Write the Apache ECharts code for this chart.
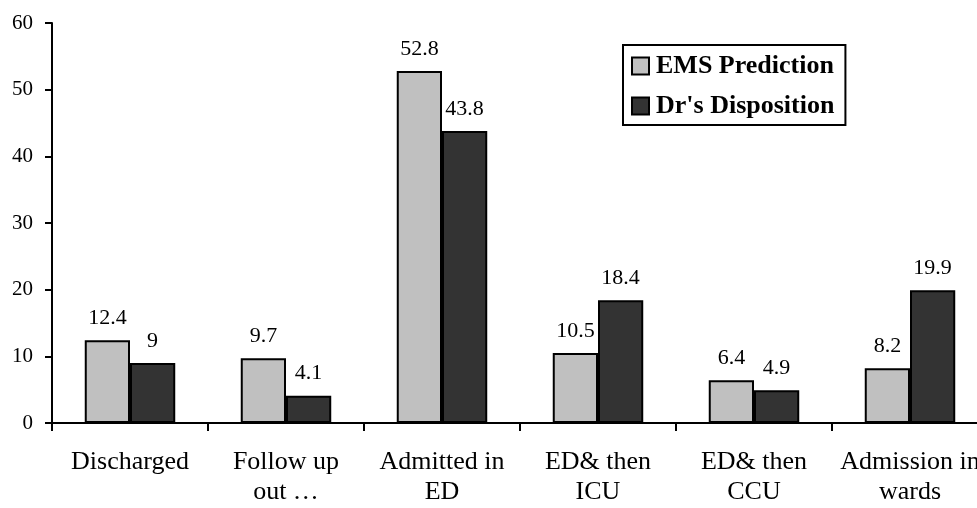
<!DOCTYPE html>
<html><head><meta charset="utf-8">
<script src="https://cdn.jsdelivr.net/npm/echarts@6/dist/echarts.min.js"></script>
<style>html,body{margin:0;padding:0;background:#fff;overflow:hidden;width:977px;height:508px}#c{width:988px;height:508px}</style>
</head><body><div id="c"></div>
<script>
var categories = ['Discharged', 'Follow up\nout …', 'Admitted in\nED', 'ED& then\nICU', 'ED& then\nCCU', 'Admission in\nwards'];
var emsPrediction = [12.4, 9.7, 52.8, 10.5, 6.4, 8.2];
var drDisposition = [9, 4.1, 43.8, 18.4, 4.9, 19.9];
var seriesNames = ['EMS Prediction', "Dr's Disposition"];
var yTicks = {min: 0, max: 60, interval: 10};

var font = 'Liberation Serif';
var chart = echarts.init(document.getElementById('c'));
function lbl() {
  return {show: true, position: 'top', distance: 11, color: '#000', fontFamily: font, fontSize: 22};
}
chart.setOption({
  animation: false,
  backgroundColor: '#fff',
  textStyle: {fontFamily: font},
  grid: {left: 52, right: 0, top: 23, bottom: 85, containLabel: false},
  legend: {
    orient: 'vertical', left: 623, top: 45,
    padding: [7, 11, 5, 8], itemGap: 12, itemWidth: 17, itemHeight: 17,
    borderColor: '#000', borderWidth: 2, icon: 'rect',
    textStyle: {fontFamily: font, fontSize: 26, lineHeight: 28, fontWeight: 'bold', color: '#000', padding: [0, 0, 0, 2]},
    data: seriesNames
  },
  xAxis: {
    type: 'category', data: categories, boundaryGap: true,
    axisLine: {lineStyle: {color: '#000', width: 2}},
    axisTick: {show: true, length: 8, interval: 0, lineStyle: {color: '#000', width: 2}},
    axisLabel: {interval: 0, margin: 24, color: '#000', fontFamily: font, fontSize: 26, lineHeight: 30}
  },
  yAxis: {
    type: 'value', min: yTicks.min, max: yTicks.max, interval: yTicks.interval,
    splitLine: {show: false},
    axisLine: {show: true, lineStyle: {color: '#000', width: 2}},
    axisTick: {show: true, length: 7, lineStyle: {color: '#000', width: 2}},
    axisLabel: {margin: 19, color: '#000', fontFamily: font, fontSize: 21}
  },
  series: [
    {name: seriesNames[0], type: 'bar', data: emsPrediction, barGap: '0%', barCategoryGap: '42%',
     itemStyle: {color: '#c0c0c0', borderColor: '#000', borderWidth: 2}, label: lbl()},
    {name: seriesNames[1], type: 'bar', data: drDisposition, barGap: '0%', barCategoryGap: '42%',
     itemStyle: {color: '#333333', borderColor: '#000', borderWidth: 2}, label: lbl()}
  ]
});
</script></body></html>
